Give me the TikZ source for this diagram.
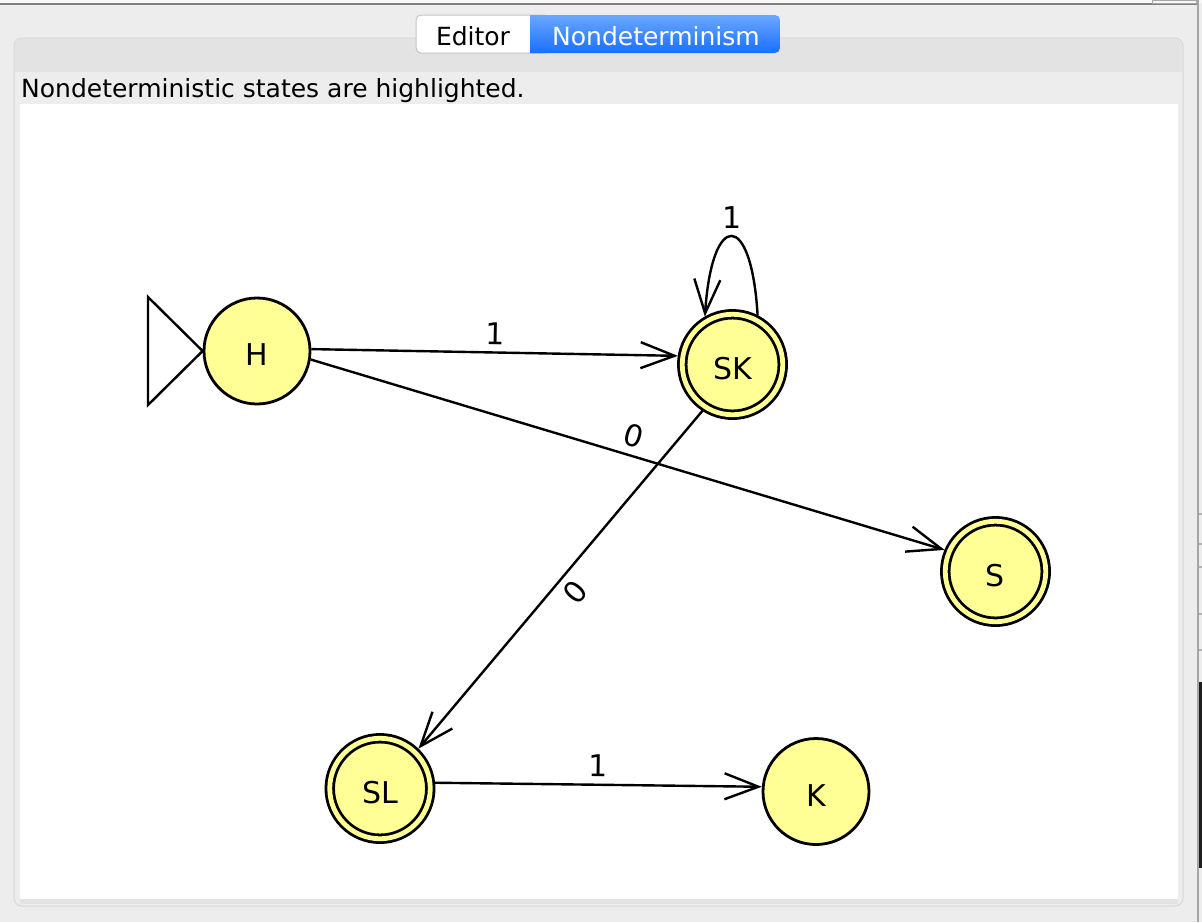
\documentclass[tikz,border=0pt]{standalone}
\usepackage{fontspec}
\setmainfont{DejaVu Sans}
\usetikzlibrary{arrows.meta}
\definecolor{winbg}{HTML}{EDEDED}
\definecolor{panelhead}{HTML}{E3E3E3}
\definecolor{paneledge}{HTML}{D6D6D6}
\definecolor{tabedge}{HTML}{C4C4C4}
\definecolor{tabtop}{HTML}{6AA8FF}
\definecolor{tabbot}{HTML}{1A6EFF}
\definecolor{stateyellow}{RGB}{255,255,150}
\tikzset{
  state/.style={circle, draw, line width=2.8pt, fill=stateyellow, minimum size=106pt,
    inner sep=0pt, text height=29pt, text depth=0pt, font=\fontsize{30}{34}\selectfont},
  accept/.style={state, minimum size=100.5pt, double=stateyellow, double distance=4.8pt, outer sep=5pt},
  edge/.style={line width=2.4pt, -{Straight Barb[length=34pt, width=26pt]}},
  lbl/.style={font=\fontsize{30}{36}\selectfont, inner sep=7pt},
  uitext/.style={font=\fontsize{25}{30}\selectfont, inner sep=0pt}
}
\begin{document}
\begin{tikzpicture}[x=1pt, y=-1pt]
	\useasboundingbox (0,0) rectangle (1202,922);
	% window
	\fill[winbg] (0,0) rectangle (1202,922);
	\fill[white!97!black] (0,0) rectangle (1202,3);
	\draw[gray, line width=2pt] (0,4) -- (1197,4);
	\draw[gray!70, line width=1pt] (1152,0) rectangle (1196,3);
	\fill[gray!70] (1196.5,0) rectangle (1198.5,922);
	\fill[black!88] (1198.5,682) rectangle (1202,868);
	\foreach \yy in {514,544,567,614,650}
		\draw[gray!60, line width=1.5pt] (1198.5,\yy) -- (1202,\yy);
	% panel
	\draw[paneledge, fill=winbg, line width=1pt, rounded corners=8pt] (14,38) rectangle (1183,906);
	\fill[panelhead, rounded corners=7pt] (15,39) rectangle (1182,80);
	\fill[winbg] (15,72) rectangle (1182,104);
	\fill[white] (20,104) rectangle (1178,899);
	\fill[panelhead] (20,899) rectangle (1178,904);
	\node[uitext, anchor=base west] (hint) at (21,97) {Nondeterministic states are highlighted.};
	% tabs
	\draw[tabedge, fill=white, line width=1pt, rounded corners=5pt] (545,15) -- (416,15) -- (416,53) -- (545,53);
	\shade[top color=tabtop, bottom color=tabbot, rounded corners=5pt] (530,15) [sharp corners] -- (530,53) [rounded corners=5pt] -- (780,53) -- (780,15) [sharp corners] -- cycle;
	\node[uitext, anchor=base] (editor) at (473,45) {Editor};
	\node[uitext, anchor=base, white] (nondet) at (656,45) {Nondeterminism};
	% states
	\node[state] (H) at (257,351) {H};
	\node[accept] (SK) at (732.5,364.5) {SK};
	\node[accept] (S) at (995.5,571.5) {S};
	\node[accept] (SL) at (380,788.5) {SL};
	\node[state] (K) at (816,791.5) {K};
	% start marker
	\draw[line width=2.4pt, line join=miter] (148,297) -- (H.west) -- (148,405) -- cycle;
	% transitions
	\draw[edge] (H.2) -- node[lbl, above, sloped] {1} (SK.171);
	\draw[edge] (H.-9) -- node[lbl, above, sloped] {0} (S.157);
	\draw[edge] (SK.237) -- node[lbl, below, sloped] {0} (SL.46);
	\draw[edge] (SL.6) -- node[lbl, above, sloped] {1} (K.175);
	\draw[edge] (SK.63) .. controls +(-6,-105) and +(7,-107) .. node[lbl, above] {1} (SK.120);
\end{tikzpicture}
\end{document}
